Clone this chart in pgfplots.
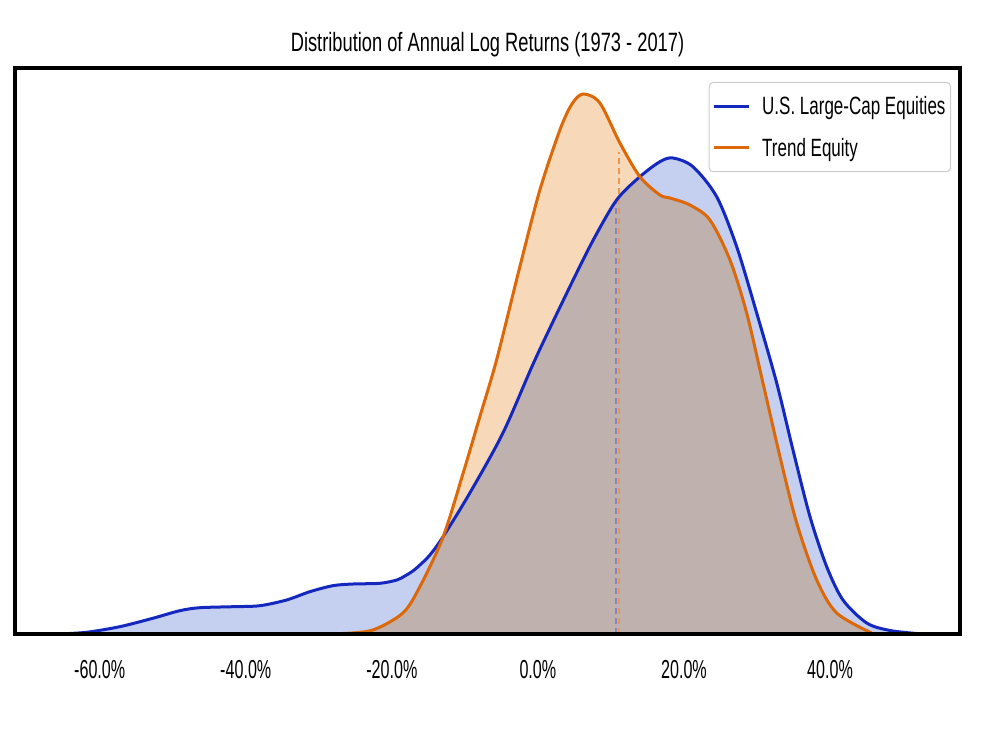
\documentclass[border=0pt]{standalone}
\usepackage{fontspec}
\setmainfont{Liberation Sans}
\usepackage{graphicx}
\usepackage{pgfplots}
\pgfplotsset{compat=1.18}
\definecolor{bline}{RGB}{20,40,192}
\definecolor{oline}{RGB}{220,104,8}
\definecolor{bfill}{RGB}{197,208,240}
\definecolor{ofill}{RGB}{247,217,185}
\definecolor{bdash}{RGB}{125,135,200}
\definecolor{odash}{RGB}{232,150,80}
\newcommand{\tklab}[1]{\scalebox{0.62}[1]{#1}}
\newcommand{\lgtxt}[1]{\hspace{10pt}\scalebox{0.68}[1]{#1}}
\begin{document}
\begin{tikzpicture}
\useasboundingbox (-15pt,-98pt) rectangle (966pt,634pt);
\begin{axis}[
  at={(0pt,0pt)}, anchor=south west,
  scale only axis, width=945pt, height=566pt,
  xmin=-71.6, xmax=57.8, ymin=0, ymax=5.66,
  axis on top=true,
  axis line style={line width=3.2pt, black},
  ytick=\empty,
  xtick={-60,-40,-20,0,20,40},
  xticklabels={\tklab{-60.0\%},\tklab{-40.0\%},\tklab{-20.0\%},\tklab{0.0\%},\tklab{20.0\%},\tklab{40.0\%}},
  major tick length=0pt,
  xticklabel style={font=\fontsize{26}{30}\selectfont, anchor=north, inner sep=0pt, yshift=-26pt},
  title={\scalebox{0.69}[1]{Distribution of Annual Log Returns (1973 - 2017)}},
  title style={font=\fontsize{26.5}{30}\selectfont, at={(0.5,1)}, anchor=base, yshift=10.7pt, inner sep=0pt},
  legend style={at={(1,1)}, anchor=north east, xshift=-9pt, yshift=-14pt,
    draw=black!20, line width=1pt, rounded corners=4pt, fill=white,
    font=\fontsize{25}{30}\selectfont, inner xsep=3pt, inner ysep=12pt, row sep=18pt,
    nodes={inner sep=2pt}},
  legend cell align=left,
  legend image code/.code={\draw[#1, line width=3pt] (0pt,0pt) -- (35pt,0pt);},
]
% fills
\addplot[smooth, draw=none, fill=bfill, forget plot] coordinates {
(-65.75,0) (-61.82,0.017) (-57.26,0.073) (-52.74,0.157) (-49.04,0.233) (-46.30,0.263) (-41.78,0.273) (-38.08,0.283) (-34.42,0.34) (-31.23,0.423) (-28.08,0.483) (-25.34,0.50) (-21.64,0.507) (-19.32,0.54) (-18.22,0.58) (-17.12,0.63) (-16.16,0.69) (-14.79,0.79) (-13.01,0.97) (-9.32,1.41) (-4.79,2.01) (-0.41,2.74) (4.38,3.473) (7.58,3.94) (10.78,4.34) (13.97,4.573) (16.71,4.723) (18.49,4.76) (21.23,4.673) (24.48,4.373) (27.22,3.873) (29.96,3.21) (32.70,2.51) (34.93,1.84) (37.26,1.173) (39.55,0.673) (41.78,0.34) (45.03,0.11) (48.22,0.035) (51.88,0.005)
} \closedcycle;
\addplot[smooth, draw=none, fill=ofill, blend mode=multiply, forget plot] coordinates {
(-26.71,0.005) (-22.60,0.04) (-18.49,0.21) (-16.16,0.473) (-12.97,0.973) (-10.23,1.61) (-7.95,2.173) (-5.66,2.74) (-2.47,3.673) (0.27,4.44) (3.01,5.04) (4.66,5.30) (6.21,5.40) (8.49,5.31) (11.23,4.91) (13.97,4.573) (16.71,4.39) (18.08,4.36) (20.82,4.29) (23.56,4.14) (26.30,3.74) (28.59,3.21) (30.82,2.51) (33.15,1.773) (35.44,1.11) (38.18,0.54) (40.92,0.21) (45.7,0.01)
} \closedcycle;
% mean lines
\addplot[bdash, line width=1.5pt, dash pattern=on 6pt off 4pt, forget plot] coordinates {(10.68,0) (10.68,4.33)};
\addplot[odash, line width=1.5pt, dash pattern=on 6pt off 4pt, forget plot] coordinates {(11.14,0) (11.14,4.82)};
% lines
\addplot[smooth, bline, line width=3pt] coordinates {
(-65.75,0) (-61.82,0.017) (-57.26,0.073) (-52.74,0.157) (-49.04,0.233) (-46.30,0.263) (-41.78,0.273) (-38.08,0.283) (-34.42,0.34) (-31.23,0.423) (-28.08,0.483) (-25.34,0.50) (-21.64,0.507) (-19.32,0.54) (-18.22,0.58) (-17.12,0.63) (-16.16,0.69) (-14.79,0.79) (-13.01,0.97) (-9.32,1.41) (-4.79,2.01) (-0.41,2.74) (4.38,3.473) (7.58,3.94) (10.78,4.34) (13.97,4.573) (16.71,4.723) (18.49,4.76) (21.23,4.673) (24.48,4.373) (27.22,3.873) (29.96,3.21) (32.70,2.51) (34.93,1.84) (37.26,1.173) (39.55,0.673) (41.78,0.34) (45.03,0.11) (48.22,0.035) (51.88,0.005)
};
\addlegendentry{\lgtxt{U.S. Large-Cap Equities}}
\addplot[smooth, oline, line width=3pt] coordinates {
(-26.71,0.005) (-22.60,0.04) (-18.49,0.21) (-16.16,0.473) (-12.97,0.973) (-10.23,1.61) (-7.95,2.173) (-5.66,2.74) (-2.47,3.673) (0.27,4.44) (3.01,5.04) (4.66,5.30) (6.21,5.40) (8.49,5.31) (11.23,4.91) (13.97,4.573) (16.71,4.39) (18.08,4.36) (20.82,4.29) (23.56,4.14) (26.30,3.74) (28.59,3.21) (30.82,2.51) (33.15,1.773) (35.44,1.11) (38.18,0.54) (40.92,0.21) (45.7,0.01)
};
\addlegendentry{\lgtxt{Trend Equity}}
\end{axis}
\end{tikzpicture}
\end{document}
